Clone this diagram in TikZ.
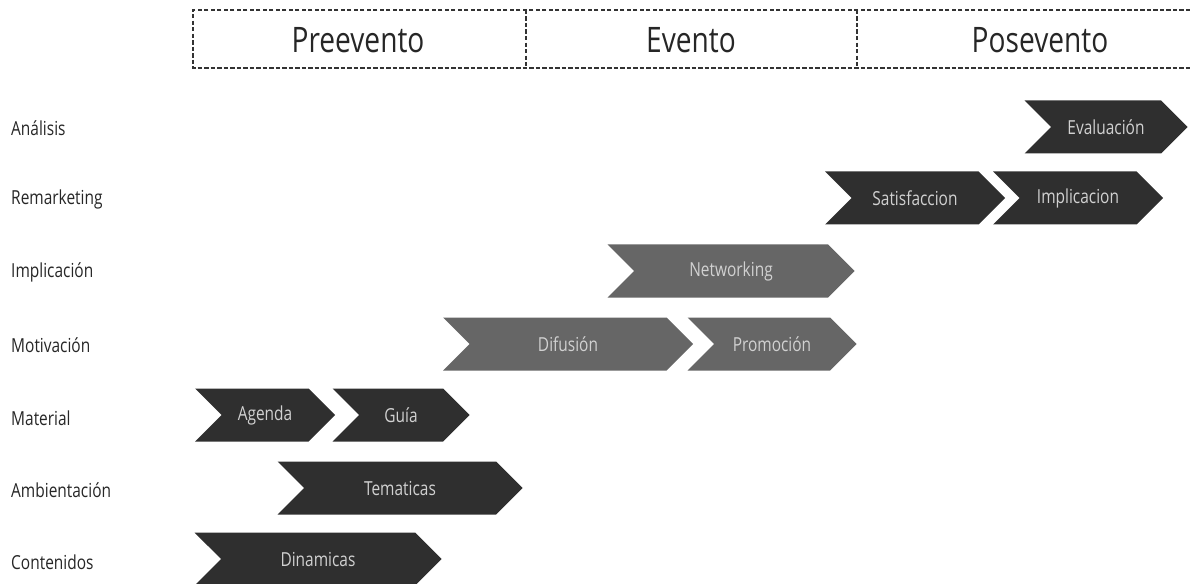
\documentclass[tikz,border=0pt]{standalone}
\usepackage{fontspec}
\setmainfont{Open Sans}[FakeStretch=0.8]
\usepackage{xcolor}
\usetikzlibrary{shapes.symbols}

\definecolor{chevdark}{HTML}{2F2F2F}
\definecolor{chevmid}{HTML}{666666}
\def\px{0.02cm}

\tikzset{
  phase/.style={font=\fontsize{20}{24}\selectfont, text=black!85},
  rowlabel/.style={anchor=west, font=\fontsize{11}{13}\selectfont, text=black!85},
  frame/.style={black!80, line width=0.7pt, dash pattern=on 2.5pt off 1.2pt},
  chev/.style={signal, signal to=east, signal from=west, signal pointer angle=90,
    minimum height=53*\px, inner sep=0pt, text=white!82!black,
    font=\fontsize{11}{13}\selectfont},
  dark/.style={chev, fill=chevdark},
  mid/.style={chev, fill=chevmid}
}

\begin{document}
\begin{tikzpicture}[x=\px, y=-\px]
    \useasboundingbox (0,0) rectangle (1190,584);
    \clip (0,0) rectangle (1190,584);

    % header with the three phases
    \draw[frame] (1190,10) -- (193,10) -- (193,68) -- (1190,68);
    \draw[frame] (526,10) -- (526,68);
    \draw[frame] (857,10) -- (857,68);
    \node[phase] (pre) at (358,40) {Preevento};
    \node[phase] (ev) at (691,40) {Evento};
    \node[phase] (pos) at (1040,40) {Posevento};

    % row labels
    \node[rowlabel] (analisis) at (5,128) {Análisis};
    \node[rowlabel] (remarketing) at (5,199) {Remarketing};
    \node[rowlabel] (implicacion) at (5,272) {Implicación};
    \node[rowlabel] (motivacion) at (5,345) {Motivación};
    \node[rowlabel] (material) at (5,418) {Material};
    \node[rowlabel] (ambientacion) at (5,490) {Ambientación};
    \node[rowlabel] (contenidos) at (5,562) {Contenidos};

    % chevrons
    \node[dark, minimum width=163*\px] (evaluacion) at (1106,127) {Evaluación};
    \node[dark, minimum width=180*\px] (satisfaccion) at (915,198) {Satisfaccion};
    \node[dark, minimum width=170*\px] (implic) at (1078,198) {Implicacion};
    \node[mid, minimum width=247*\px] (networking) at (731,271) {Networking};
    \node[mid, minimum width=250*\px] (difusion) at (568,344) {Difusión};
    \node[mid, minimum width=169*\px] (promocion) at (772,344) {Promoción};
    \node[dark, minimum width=140*\px] (agenda) at (265,415) {Agenda};
    \node[dark, minimum width=137*\px] (guia) at (401,415) {Guía};
    \node[dark, minimum width=245*\px] (tematicas) at (400,488) {Tematicas};
    \node[dark, minimum width=247*\px] (dinamicas) at (318,559) {Dinamicas};
\end{tikzpicture}
\end{document}
